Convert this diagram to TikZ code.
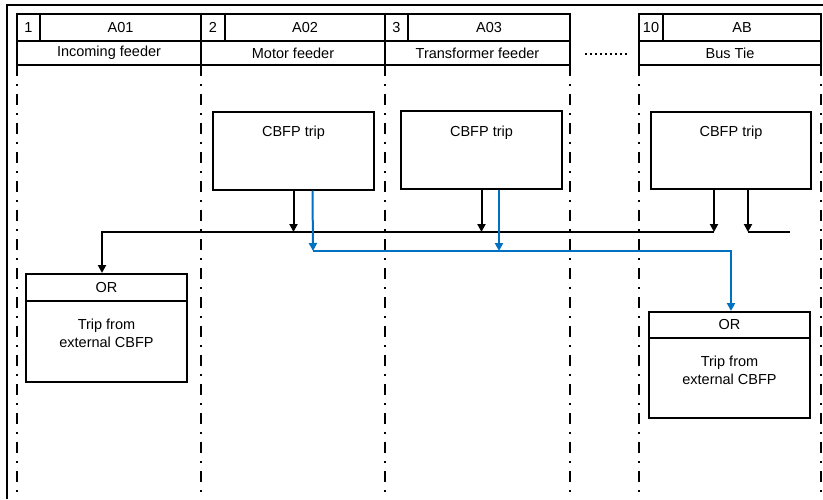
\documentclass[tikz,border=0pt]{standalone}
\usepackage{fontspec}
\setmainfont{Liberation Sans}
\usetikzlibrary{arrows.meta,positioning}
\definecolor{tripblue}{RGB}{0,112,192}

\begin{document}
\begin{tikzpicture}[x=1pt, y=-1pt, font=\fontsize{14.5}{18}\selectfont,
  cell/.style = {draw, line width=2pt, inner sep=0pt},
  tripbox/.style = {draw, line width=2pt, inner sep=0pt, minimum width=161pt, minimum height=78pt},
  sep/.style = {line width=2.6pt, dash pattern=on 11pt off 8pt on 2pt off 8pt},
  sig/.style = {line width=2pt, -{Triangle[length=8pt,width=8pt]}},
  bluesig/.style = {sig, color=tripblue}]
        \useasboundingbox (0,0) rectangle (823,499);
        % frame
        \draw[line width=2.5pt] (7,499) -- (7,5) -- (823,5);
        % header
        \node[cell, minimum width=23pt, minimum height=27pt] (n1) at (28.5,27.5) {1};
        \node[cell, minimum width=161pt, minimum height=27pt] (id1) at (120.5,27.5) {A01};
        \node[cell, minimum width=184pt, minimum height=24pt] (f1) at (109,53) {Incoming feeder};
        \node[cell, minimum width=24pt, minimum height=27pt] (n2) at (213,27.5) {2};
        \node[cell, minimum width=160pt, minimum height=27pt] (id2) at (305,27.5) {A02};
        \node[cell, minimum width=184pt, minimum height=24pt] (f2) at (293,53) {Motor feeder};
        \node[cell, minimum width=23pt, minimum height=27pt] (n3) at (396.5,27.5) {3};
        \node[cell, minimum width=162pt, minimum height=27pt] (id3) at (489,27.5) {A03};
        \node[cell, minimum width=185pt, minimum height=24pt] (f3) at (477.5,53) {Transformer feeder};
        \node[cell, minimum width=24pt, minimum height=27pt] (n10) at (651,27.5) {10};
        \node[cell, minimum width=158pt, minimum height=27pt] (id10) at (742,27.5) {AB};
        \node[cell, minimum width=182pt, minimum height=24pt] (f10) at (730,53) {Bus Tie};
        \draw[line width=1.6pt, dash pattern=on 1.6pt off 3.4pt] (585,54) -- (627,54);
        % column separators
        \foreach \x in {17,201,385,570,639,821}
          \draw[sep] (\x,65) -- (\x,499);
        % trip blocks
        \node[tripbox] (trip1) at (293.5,150.5) {};
        \node[below=12pt of trip1.north] (trip1txt) {CBFP trip};
        \node[tripbox] (trip2) at (481.5,150) {};
        \node[below=12pt of trip2.north] (trip2txt) {CBFP trip};
        \node[tripbox, minimum width=160pt, minimum height=77pt] (trip3) at (731,150.5) {};
        \node[below=11pt of trip3.north] (trip3txt) {CBFP trip};
        % external trip blocks
        \node[cell, minimum width=161pt, minimum height=27pt] (orL) at (106.5,287.5) {OR};
        \node[cell, minimum width=161pt, minimum height=81pt] (orLbox) at (106.5,341.5) {};
        \node[below=15pt of orLbox.north, align=center] (orLtxt) {Trip from\\external CBFP};
        \node[cell, minimum width=161pt, minimum height=26pt] (orR) at (729.5,325) {OR};
        \node[cell, minimum width=161pt, minimum height=80pt] (orRbox) at (729.5,378) {};
        \node[below=15pt of orRbox.north, align=center] (orRtxt) {Trip from\\external CBFP};
        % black bus
        \coordinate (busL) at (102,232);
        \coordinate (busR) at (714,232);
        \coordinate (tieR) at (790,232);
        \coordinate (tieC) at ([xshift=17pt]trip3.south |- tieR);
        \draw[sig] (trip1.south) -- (trip1.south |- busL);
        \draw[sig] (trip2.south) -- (trip2.south |- busL);
        \draw[sig] ([xshift=-17pt]trip3.south) -- (busR);
        \draw[sig] (busR) -- (busL) -- (busL |- orL.north);
        \draw[sig] ([xshift=17pt]trip3.south) -- (tieC);
        \draw[line width=2pt] (tieC) -- (tieR);
        % blue bus
        \coordinate (blueL) at (313,251);
        \coordinate (blueR) at (731,251);
        \draw[bluesig] ([xshift=19pt]trip1.south) -- (blueL);
        \draw[bluesig] ([xshift=17.5pt]trip2.south) -- ([xshift=17.5pt]trip2.south |- blueL);
        \draw[bluesig] (blueL) -- (blueR) -- (blueR |- orR.north);
      \end{tikzpicture}
\end{document}
